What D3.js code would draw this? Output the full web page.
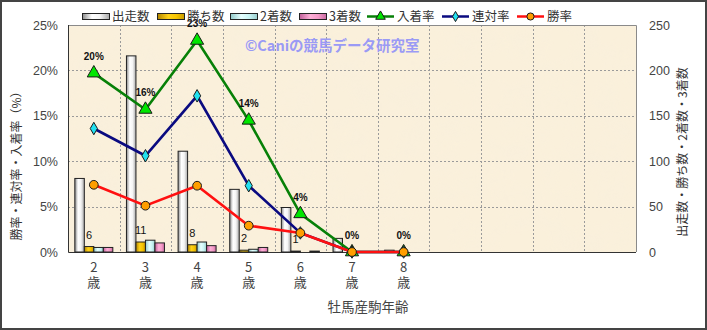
<!DOCTYPE html>
<meta charset="utf-8">
<style>
body { margin: 0; background: #fff; }
svg text { font-family: "Noto Sans CJK JP", "Noto Sans", sans-serif; }
.num { font-family: "Liberation Sans", Arial, sans-serif !important; }
.grid line { stroke: #9a9a9a; stroke-dasharray: 2,2; stroke-width: 1; }
.bar { stroke: #222; stroke-width: 1; }
</style>
<svg width="707" height="330" id="chart"></svg>
<script src="https://d3js.org/d3.v7.min.js"></script>
<script>

// data
var ages = ["2", "3", "4", "5", "6", "7", "8"];
var starts = [81, 216, 111, 69, 49, 15, 2];
var wins = [6, 11, 8, 2, 1, 0, 0];
var seconds = [5, 13, 11, 3, 0, 0, 0];
var thirds = [5, 10, 7, 5, 1, 0, 0];
var placeRate = [19.7, 15.7, 23.3, 14.5, 4.2, 0, 0];
var quinellaRate = [13.6, 10.6, 17.2, 7.3, 2.1, 0, 0];
var winRate = [7.4, 5.1, 7.3, 2.9, 2.1, 0, 0];
var placeLabels = ["20%", "16%", "23%", "14%", "4%", "0%", "0%"];
var leftTicks = [0, 5, 10, 15, 20, 25];
var rightTicks = [0, 50, 100, 150, 200, 250];
var slots = 11;   // category slots on the x axis (last ones empty)

var svg = d3.select("svg#chart");
var pL = 68, pR = 636, pT = 25, pB = 252;

var x = d3.scaleBand().domain(d3.range(slots)).range([pL, pR]),
    y = d3.scaleLinear().domain([0, 25]).range([pB, pT]),
    y2 = d3.scaleLinear().domain([0, 250]).range([pB, pT]);

var barKeys = ["starts", "wins", "seconds", "thirds"];
var barData = { starts: starts, wins: wins, seconds: seconds, thirds: thirds };
var x1 = d3.scaleBand().domain(barKeys).range([-19, 19]);

var defs = svg.append("defs");
function grad(id, stops) {
  var g = defs.append("linearGradient").attr("id", id)
      .attr("x1", "0").attr("x2", "1").attr("y1", "0").attr("y2", "0");
  stops.forEach(function(s) {
    g.append("stop").attr("offset", s[0]).attr("stop-color", s[1]);
  });
}
grad("g-starts", [[0, "#8a8a8a"], [0.35, "#ffffff"], [0.65, "#f4f4f4"], [1, "#a8a8a8"]]);
grad("g-wins", [[0, "#b38600"], [0.4, "#ffd21a"], [0.7, "#f5c400"], [1, "#c89a00"]]);
grad("g-seconds", [[0, "#8fc8c8"], [0.4, "#e6ffff"], [0.7, "#c8f4f4"], [1, "#99cccc"]]);
grad("g-thirds", [[0, "#c0609a"], [0.4, "#ffb0d8"], [0.7, "#f59ac8"], [1, "#c86aa0"]]);

var paper = defs.append("filter").attr("id", "paper")
    .attr("x", 0).attr("y", 0).attr("width", 1).attr("height", 1);
paper.append("feTurbulence").attr("type", "fractalNoise")
    .attr("baseFrequency", 0.035).attr("numOctaves", 3).attr("seed", 4);
paper.append("feColorMatrix").attr("type", "matrix")
    .attr("values", "0 0 0 0 0.93  0 0 0 0 0.86  0 0 0 0 0.74  0 0 0 -0.9 0.55");
paper.append("feComposite").attr("in2", "SourceGraphic").attr("operator", "in");

// outer frame
svg.append("rect").attr("x", 1).attr("y", 1).attr("width", 705).attr("height", 328)
    .attr("fill", "#fff").attr("stroke", "#444").attr("stroke-width", 2);

// plot background
svg.append("rect").attr("x", pL).attr("y", pT)
    .attr("width", pR - pL).attr("height", pB - pT)
    .attr("fill", "#faf0db");
svg.append("rect").attr("x", pL).attr("y", pT)
    .attr("width", pR - pL).attr("height", pB - pT)
    .attr("fill", "#faf0db").attr("filter", "url(#paper)").attr("opacity", 0.6);

// grid
var grid = svg.append("g").attr("class", "grid");
grid.selectAll(".h").data(leftTicks.slice(1, -1)).enter().append("line")
    .attr("x1", pL).attr("x2", pR)
    .attr("y1", function(d) { return Math.round(y(d)) + 0.5; })
    .attr("y2", function(d) { return Math.round(y(d)) + 0.5; });
grid.selectAll(".v").data(d3.range(1, slots)).enter().append("line")
    .attr("x1", function(d) { return Math.round(x(d)) + 0.5; })
    .attr("x2", function(d) { return Math.round(x(d)) + 0.5; })
    .attr("y1", pT).attr("y2", pB);

// plot border
svg.append("path").attr("fill", "none").attr("stroke", "#8a8a8a")
    .attr("d", "M" + pL + "," + (pT + 0.5) + "H" + (pR + 0.5) + "V" + pB);
svg.append("path").attr("fill", "none").attr("stroke", "#333")
    .attr("d", "M" + (pL + 0.5) + "," + pT + "V" + (pB + 0.5) + "H" + pR);

// bars
var groups = svg.selectAll(".grp").data(ages).enter().append("g")
    .attr("transform", function(d, i) { return "translate(" + (x(i) + x.bandwidth() / 2) + ",0)"; });
barKeys.forEach(function(k) {
  groups.append("rect").attr("class", "bar")
      .attr("x", x1(k))
      .attr("width", x1.bandwidth())
      .attr("y", function(d, i) { return y2(barData[k][i]); })
      .attr("height", function(d, i) { return pB - y2(barData[k][i]); })
      .attr("fill", "url(#g-" + k + ")");
});
groups.append("text").attr("class", "num")
    .attr("x", x1("wins") + x1.bandwidth() / 2)
    .attr("y", function(d, i) { return y2(wins[i]) - 8; })
    .attr("text-anchor", "middle")
    .attr("font-size", 11).attr("fill", "#111")
    .text(function(d, i) { return wins[i] > 0 ? wins[i] : ""; });

// lines
var line = d3.line()
    .x(function(d, i) { return x(i) + x.bandwidth() / 2; })
    .y(function(d) { return y(d); });

function series(vals, color) {
  svg.append("path").datum(vals).attr("fill", "none")
      .attr("stroke", color).attr("stroke-width", 2.6).attr("d", line);
}
function markers(vals, sym, size, fill) {
  svg.selectAll(null).data(vals).enter().append("path")
      .attr("transform", function(d, i) { return "translate(" + (x(i) + x.bandwidth() / 2) + "," + y(d) + ")"; })
      .attr("d", d3.symbol().type(sym).size(size))
      .attr("fill", fill).attr("stroke", "#1a1a1a").attr("stroke-width", 1);
}
series(placeRate, "#078007");
markers(placeRate, d3.symbolTriangle, 75, "#00e600");
series(quinellaRate, "#0a0a80");
markers(quinellaRate, d3.symbolDiamond, 45, "#22e0f0");
series(winRate, "#ff1010");
markers(winRate, d3.symbolCircle, 60, "#ff9e00");

svg.selectAll(null).data(placeLabels).enter().append("text").attr("class", "num")
    .attr("x", function(d, i) { return x(i) + x.bandwidth() / 2; })
    .attr("y", function(d, i) { return y(placeRate[i]) - 13; })
    .attr("text-anchor", "middle")
    .attr("font-size", 10).attr("font-weight", "bold").attr("fill", "#111")
    .text(function(d) { return d; });

// watermark
svg.append("text").attr("x", 245).attr("y", 51)
    .attr("font-size", 14.5).attr("font-weight", "bold").attr("fill", "#9a9af5")
    .text("©Caniの競馬データ研究室");

// axes
var yAxis = svg.append("g").attr("transform", "translate(" + pL + ",0)")
    .call(d3.axisLeft(y).tickValues(leftTicks).tickSize(0).tickPadding(10)
          .tickFormat(function(d) { return d + "%"; }));
var y2Axis = svg.append("g").attr("transform", "translate(" + pR + ",0)")
    .call(d3.axisRight(y2).tickValues(rightTicks).tickSize(0).tickPadding(13));
[yAxis, y2Axis].forEach(function(a) {
  a.select(".domain").remove();
  a.selectAll("text").attr("class", "num").attr("font-size", 12.5).attr("fill", "#444");
});

var xAxis = svg.append("g").attr("transform", "translate(0," + pB + ")")
    .call(d3.axisBottom(x).tickSize(0).tickPadding(11)
          .tickFormat(function(i) { return i < ages.length ? ages[i] : ""; }));
xAxis.select(".domain").remove();
xAxis.selectAll("text").attr("font-size", 13).attr("fill", "#444")
    .each(function(i) {
      if (i >= ages.length) return;
      d3.select(this).append("tspan").attr("x", 0).attr("dy", "1.15em").text("歳");
    });

// titles
svg.append("text").attr("transform", "translate(21,163) rotate(-90)")
    .attr("text-anchor", "middle").attr("font-size", 12).attr("fill", "#333")
    .text("勝率・連対率・入着率（%）");
svg.append("text").attr("transform", "translate(687,152) rotate(-90)")
    .attr("text-anchor", "middle").attr("font-size", 12).attr("fill", "#333")
    .text("出走数・勝ち数・2着数・3着数");
svg.append("text").attr("x", 368).attr("y", 312)
    .attr("text-anchor", "middle").attr("font-size", 13.5).attr("fill", "#444")
    .text("牡馬産駒年齢");

// legend
var legendBars = [["starts", "出走数", 82], ["wins", "勝ち数", 157], ["seconds", "2着数", 230], ["thirds", "3着数", 299]];
var legendLines = [["入着率", 367, "#078007", d3.symbolTriangle, 40, "#00e600"],
                   ["連対率", 442, "#0a0a80", d3.symbolDiamond, 30, "#22e0f0"],
                   ["勝率", 517, "#ff1010", d3.symbolCircle, 40, "#ff9e00"]];
var lg = svg.append("g");
legendBars.forEach(function(b) {
  lg.append("rect").attr("class", "bar").attr("x", b[2] + 0.5).attr("y", 13.5)
      .attr("width", 27).attr("height", 6).attr("fill", "url(#g-" + b[0] + ")");
  lg.append("text").attr("x", b[2] + 30).attr("y", 21).attr("font-size", 12.5).attr("fill", "#333").text(b[1]);
});
legendLines.forEach(function(l) {
  lg.append("line").attr("x1", l[1]).attr("x2", l[1] + 27).attr("y1", 16.5).attr("y2", 16.5)
      .attr("stroke", l[2]).attr("stroke-width", 2.5);
  lg.append("path").attr("transform", "translate(" + (l[1] + 13.5) + ",16.5)")
      .attr("d", d3.symbol().type(l[3]).size(l[4]))
      .attr("fill", l[5]).attr("stroke", "#1a1a1a").attr("stroke-width", 1);
  lg.append("text").attr("x", l[1] + 30).attr("y", 21).attr("font-size", 12.5).attr("fill", "#333").text(l[0]);
});

</script>
